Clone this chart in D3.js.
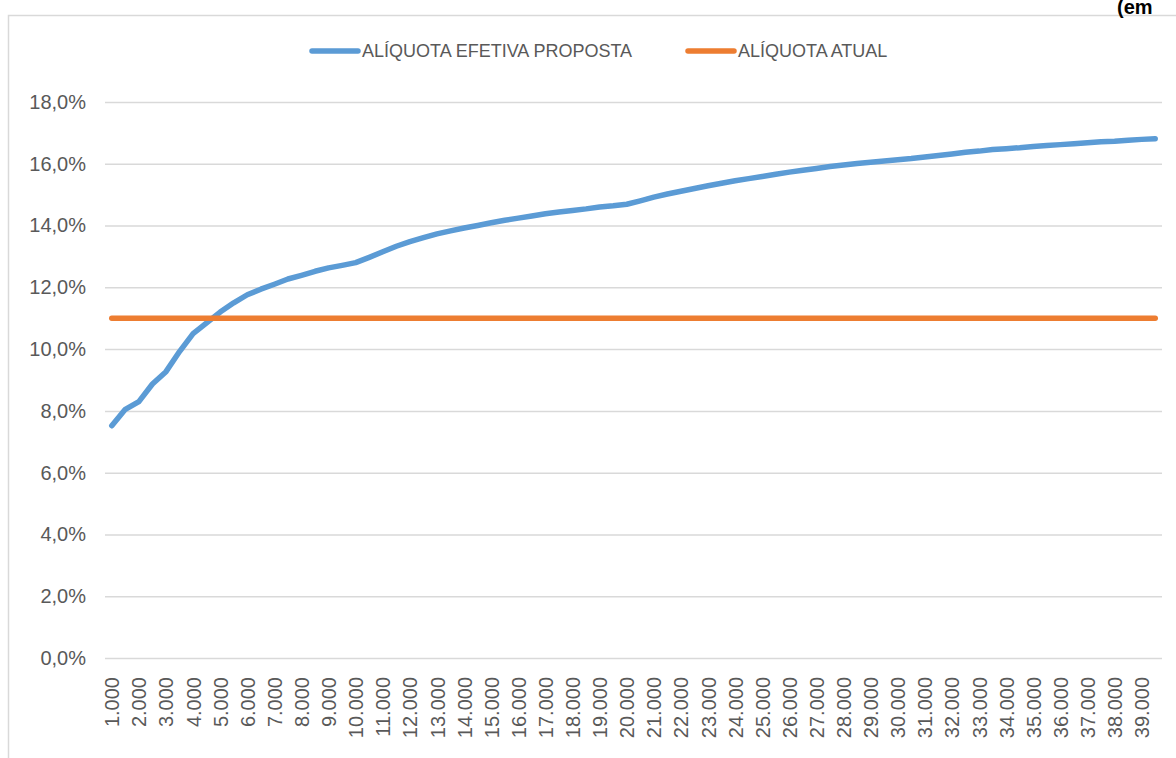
<!DOCTYPE html>
<html>
<head>
<meta charset="utf-8">
<script src="https://cdn.jsdelivr.net/npm/d3@7"></script>
<style>
  body { margin: 0; background: #fff; }
  svg { display: block; font-family: "Liberation Sans", Arial, sans-serif; }
  .y-axis text, .x-axis text { fill: #595959; }
</style>
</head>
<body>
<div id="chart"></div>
<script>
// categories (renda, R$) - one point every 500
var categories = [1000, 1500, 2000, 2500, 3000, 3500, 4000, 4500, 5000, 5500,
  6000, 6500, 7000, 7500, 8000, 8500, 9000, 9500, 10000, 10500,
  11000, 11500, 12000, 12500, 13000, 13500, 14000, 14500, 15000, 15500,
  16000, 16500, 17000, 17500, 18000, 18500, 19000, 19500, 20000, 20500,
  21000, 21500, 22000, 22500, 23000, 23500, 24000, 24500, 25000, 25500,
  26000, 26500, 27000, 27500, 28000, 28500, 29000, 29500, 30000, 30500,
  31000, 31500, 32000, 32500, 33000, 33500, 34000, 34500, 35000, 35500,
  36000, 36500, 37000, 37500, 38000, 38500, 39000, 39500];

// ALÍQUOTA EFETIVA PROPOSTA (%)
var proposta = [7.52, 8.05, 8.30, 8.87, 9.27, 9.92, 10.50, 10.85, 11.20, 11.50,
  11.76, 11.94, 12.10, 12.27, 12.39, 12.52, 12.63, 12.71, 12.80, 12.97,
  13.15, 13.33, 13.48, 13.61, 13.73, 13.83, 13.92, 14.00, 14.09, 14.17,
  14.24, 14.31, 14.38, 14.44, 14.49, 14.54, 14.60, 14.64, 14.69, 14.80,
  14.92, 15.02, 15.11, 15.20, 15.29, 15.37, 15.45, 15.52, 15.59, 15.66,
  15.73, 15.79, 15.85, 15.91, 15.96, 16.01, 16.05, 16.09, 16.13, 16.17,
  16.22, 16.27, 16.32, 16.37, 16.41, 16.46, 16.49, 16.52, 16.56, 16.59,
  16.62, 16.65, 16.68, 16.71, 16.73, 16.76, 16.79, 16.81];

// ALÍQUOTA ATUAL (%)
var atual = [11, 11, 11, 11, 11, 11, 11, 11, 11, 11,
  11, 11, 11, 11, 11, 11, 11, 11, 11, 11,
  11, 11, 11, 11, 11, 11, 11, 11, 11, 11,
  11, 11, 11, 11, 11, 11, 11, 11, 11, 11,
  11, 11, 11, 11, 11, 11, 11, 11, 11, 11,
  11, 11, 11, 11, 11, 11, 11, 11, 11, 11,
  11, 11, 11, 11, 11, 11, 11, 11, 11, 11,
  11, 11, 11, 11, 11, 11, 11, 11];

var yTicks = [0, 2, 4, 6, 8, 10, 12, 14, 16, 18];
var xTickLabels = [1000, 2000, 3000, 4000, 5000, 6000, 7000, 8000, 9000, 10000,
  11000, 12000, 13000, 14000, 15000, 16000, 17000, 18000, 19000, 20000,
  21000, 22000, 23000, 24000, 25000, 26000, 27000, 28000, 29000, 30000,
  31000, 32000, 33000, 34000, 35000, 36000, 37000, 38000, 39000];

var seriesNames = ["ALÍQUOTA EFETIVA PROPOSTA", "ALÍQUOTA ATUAL"];
var seriesColors = ["#5B9BD5", "#ED7D31"];

var svgWidth = 1176, svgHeight = 758;
var margin = { top: 102, right: 14, bottom: 100, left: 105 };
var width = svgWidth - margin.left - margin.right;
var height = 658 - margin.top;

var br = d3.formatLocale({ decimal: ",", thousands: ".", grouping: [3], currency: ["R$", ""] });
var fmtY = br.format(".1f");
var fmtX = br.format(",.0f");

var svg = d3.select("#chart").append("svg").attr("width", svgWidth).attr("height", svgHeight);

// chart frame (runs past the page edge)
svg.append("rect").attr("x", 8.5).attr("y", 15.5).attr("width", 1300).attr("height", 900)
   .attr("fill", "none").attr("stroke", "#D9D9D9").attr("stroke-width", 1.5);

// unit note, cut off in the source
svg.append("text").attr("x", 1117).attr("y", 14).attr("font-size", 20).attr("font-weight", "bold")
   .attr("fill", "#000").text("(em");

var chartGroup = svg.append("g").attr("transform", `translate(${margin.left}, ${margin.top})`);

var xScale = d3.scalePoint().domain(categories).range([0, width]).padding(0.5);
var yScale = d3.scaleLinear().domain([0, 18]).range([height, 0]);

// y axis + gridlines
var leftAxis = d3.axisLeft(yScale).tickValues(yTicks).tickSize(-width).tickPadding(19)
                 .tickFormat(d => fmtY(d) + "%");
var yAxis = chartGroup.append("g").classed("y-axis", true).call(leftAxis);
yAxis.select(".domain").remove();
yAxis.selectAll("line").attr("stroke", "#D9D9D9").attr("stroke-width", 1.5);
yAxis.selectAll("text").attr("font-size", 20);

// x axis labels (every other category)
var bottomAxis = d3.axisBottom(xScale).tickValues(xTickLabels).tickSize(0).tickFormat(d => fmtX(d));
var xAxis = chartGroup.append("g").classed("x-axis", true).attr("transform", `translate(0, ${height})`).call(bottomAxis);
xAxis.select(".domain").remove();
xAxis.selectAll("text")
     .attr("font-size", 20)
     .attr("transform", "rotate(-90)")
     .attr("text-anchor", "end")
     .attr("x", -19).attr("y", 0).attr("dy", "0.35em");

// lines
var line = d3.line().x((d, i) => xScale(categories[i])).y(d => yScale(d));
[proposta, atual].forEach(function(values, k) {
  chartGroup.append("path").datum(values)
    .attr("fill", "none").attr("stroke", seriesColors[k]).attr("stroke-width", 5.5)
    .attr("stroke-linecap", "round").attr("stroke-linejoin", "round")
    .attr("d", line);
});

// legend
var legendX = [312, 688];
var legend = svg.append("g");
seriesNames.forEach(function(name, k) {
  legend.append("line").attr("x1", legendX[k]).attr("x2", legendX[k] + 46).attr("y1", 51).attr("y2", 51)
        .attr("stroke", seriesColors[k]).attr("stroke-width", 5.5).attr("stroke-linecap", "round");
  legend.append("text").attr("x", legendX[k] + 50).attr("y", 51).attr("dy", "0.35em")
        .attr("font-size", 18).attr("fill", "#595959").text(name);
});
</script>
</body>
</html>
